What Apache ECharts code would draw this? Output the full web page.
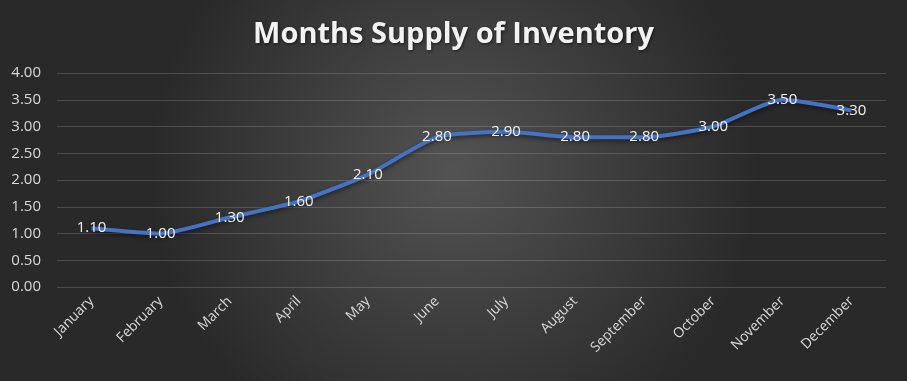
<!DOCTYPE html>
<html><head><meta charset="utf-8">
<script src="https://cdn.jsdelivr.net/npm/echarts@6/dist/echarts.min.js"></script>
<style>html,body{margin:0;padding:0;background:#333;}#c{width:907px;height:381px;}</style>
</head><body><div id="c"></div>
<script>
var categories = ['January','February','March','April','May','June','July','August','September','October','November','December'];
var supplyValues = [1.10, 1.00, 1.30, 1.60, 2.10, 2.80, 2.90, 2.80, 2.80, 3.00, 3.50, 3.30];
var titleText = 'Months Supply of Inventory';

var chart = echarts.init(document.getElementById('c'), null, {renderer:'canvas'});
chart.setOption({
  backgroundColor: {
    type:'radial', x:0.5, y:0.45, r:0.8,
    colorStops:[{offset:0,color:'#535353'},{offset:1,color:'#292929'}]
  },
  title:{
    text:titleText, left:'center', top:15,
    textStyle:{color:'#f2f2f2', fontSize:29, fontWeight:'bold', fontFamily:'Open Sans',
      textShadowColor:'rgba(0,0,0,0.6)', textShadowBlur:3, textShadowOffsetX:1, textShadowOffsetY:1}
  },
  grid:{left:57, right:21, top:73, bottom:94, containLabel:false},
  xAxis:{
    type:'category', data:categories, boundaryGap:true,
    axisLine:{show:false}, axisTick:{show:false},
    axisLabel:{color:'#d9d9d9', fontSize:14, fontFamily:'Open Sans', rotate:45, margin:12, interval:0}
  },
  yAxis:{
    type:'value', min:0, max:4, interval:0.5,
    axisLine:{show:false}, axisTick:{show:false},
    axisLabel:{color:'#d9d9d9', fontSize:15, fontFamily:'Open Sans', margin:16,
      formatter:function(v){return v.toFixed(2);}},
    splitLine:{lineStyle:{color:'rgba(255,255,255,0.16)', width:1}}
  },
  series:[{
    type:'line', data:supplyValues, smooth:0.2, showSymbol:true, symbol:'circle', symbolSize:2,
    itemStyle:{color:'rgba(0,0,0,0)', borderWidth:0},
    lineStyle:{color:'#4472C4', width:4, shadowColor:'rgba(0,0,0,0.5)', shadowBlur:4, shadowOffsetY:2},
    label:{show:true, position:'inside', color:'#f2f2f2', fontSize:15, fontFamily:'Open Sans',
      formatter:function(p){return p.value.toFixed(2);}}
  }]
});
</script></body></html>
